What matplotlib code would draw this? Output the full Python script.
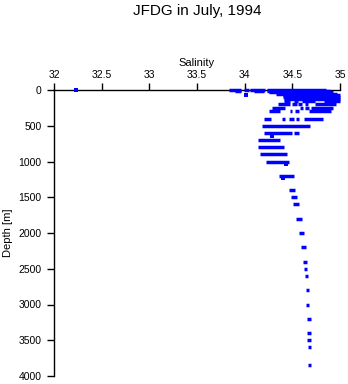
import matplotlib
matplotlib.use("Agg")
import matplotlib.pyplot as plt

plt.rcParams['font.family'] = ['Liberation Sans', 'DejaVu Sans']

# CTD bottle salinities grouped by standard depth: each run is a span of
# closely spaced samples (depth [m], lowest salinity, highest salinity)
seg_depth = [
    0, 0, 0, 0,
    10, 10, 10,
    20, 30, 50, 75, 100, 125,
    150, 150, 150, 150,
    200, 200, 200, 200, 200,
    250, 250, 250, 250,
    300, 300, 300, 300,
    400, 400, 400, 400, 400,
    500,
    600, 600,
    700, 800, 900, 1000, 1200,
    1400, 1500, 1600, 1800, 2000, 2200, 2400, 2500, 2600,
    2800, 3000, 3200, 3400, 3500, 3600, 3850,
]
seg_sal_lo = [
    33.84, 33.99, 34.06, 34.23,
    33.90, 34.10, 34.25,
    34.23, 34.25, 34.33, 34.40, 34.40, 34.41,
    34.41, 34.52, 34.60, 34.83,
    34.35, 34.50, 34.56, 34.63, 34.74,
    34.29, 34.58, 34.63, 34.70,
    34.26, 34.48, 34.53, 34.68,
    34.20, 34.39, 34.46, 34.54, 34.62,
    34.18,
    34.20, 34.52,
    34.14, 34.14, 34.16, 34.22, 34.36,
    34.47, 34.49, 34.51, 34.54, 34.57, 34.59, 34.61, 34.62, 34.63,
    34.64, 34.64, 34.65, 34.65, 34.65, 34.66, 34.66,
]
seg_sal_hi = [
    33.96, 34.05, 34.21, 34.85,
    33.96, 34.20, 34.80,
    34.90, 34.93, 34.97, 35.00, 35.00, 35.00,
    34.48, 34.56, 34.74, 35.00,
    34.48, 34.55, 34.60, 34.66, 34.96,
    34.42, 34.61, 34.67, 34.93,
    34.37, 34.50, 34.57, 34.91,
    34.28, 34.42, 34.52, 34.57, 34.82,
    34.69,
    34.50, 34.57,
    34.37, 34.41, 34.44, 34.47, 34.52,
    34.53, 34.55, 34.57, 34.60, 34.62, 34.64, 34.65, 34.65, 34.66,
    34.67, 34.68, 34.70, 34.70, 34.70, 34.70, 34.70,
]

# isolated samples
pt_sal = [32.23, 34.01, 34.29, 34.43, 34.40]
pt_depth = [0, 70, 640, 1040, 1230]

x_ticks = [32, 32.5, 33, 33.5, 34, 34.5, 35]
x_tick_labels = ["32", "32.5", "33", "33.5", "34", "34.5", "35"]
y_ticks = [0, 500, 1000, 1500, 2000, 2500, 3000, 3500, 4000]

W, H = 348, 384
fig = plt.figure(figsize=(W / 100, H / 100), dpi=100)
ax = fig.add_axes([54 / W, 1 - 376 / H, (340 - 54) / W, (376 - 90) / H])

blue = "#0000ff"
ax.hlines(seg_depth, seg_sal_lo, seg_sal_hi, colors=blue, linewidth=2.5,
          capstyle="butt", zorder=4, clip_on=False)
ax.scatter(pt_sal, pt_depth, s=6, marker="s", color=blue, linewidths=0,
           zorder=4, clip_on=False)

ax.set_xlim(32, 35)
ax.set_ylim(4000, 0)

for side in ("right", "bottom"):
    ax.spines[side].set_visible(False)
for side in ("top", "left"):
    ax.spines[side].set_linewidth(1.0)
    ax.spines[side].set_color("black")

ax.xaxis.set_ticks_position("top")
ax.xaxis.set_label_position("top")
ax.set_xticks(x_ticks)
ax.set_xticklabels(x_tick_labels)
ax.set_yticks(y_ticks)
ax.tick_params(axis="x", direction="out", length=5, width=1, pad=2,
               labelsize=7.5)
ax.tick_params(axis="y", direction="out", length=5, width=1, pad=4,
               labelsize=7.5)

ax.set_xlabel("Salinity", fontsize=8, labelpad=3)
ax.set_ylabel("Depth [m]", fontsize=8, labelpad=4)
fig.text(197 / W, 1 - 4 / H, "JFDG in July, 1994", fontsize=11,
         ha="center", va="top")

fig.savefig("out.png", dpi=100)
